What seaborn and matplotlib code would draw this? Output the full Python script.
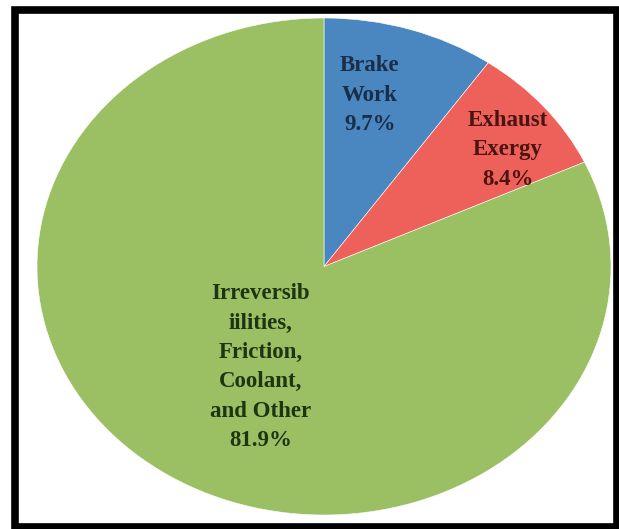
import matplotlib
matplotlib.use("Agg")
import matplotlib.pyplot as plt
from matplotlib.patches import Rectangle
import seaborn as sns

# Exergy balance of the engine (share of fuel exergy, %)
categories = ["Brake\nWork", "Exhaust\nExergy",
              "Irreversib\niilities,\nFriction,\nCoolant,\nand Other"]
shares = [9.7, 8.4, 81.9]
slice_colors = ["#4A86C0", "#EE605A", "#9BBF63"]
label_colors = ["#1B2E48", "#4A1511", "#1E3512"]

sns.set_theme(style="white")
plt.rcParams["font.family"] = ["Liberation Serif", "DejaVu Serif"]

fig = plt.figure(figsize=(6.19, 5.29), dpi=100)
fig.patch.set_facecolor("white")

# the pie is stretched horizontally, so use a non-square axes with auto aspect
W, H = 619, 529
ax = fig.add_axes([37 / W, (H - 515) / H, 574 / W, 497 / H])
ax.pie(shares, colors=slice_colors, startangle=90, counterclock=False,
       radius=1.0, wedgeprops=dict(edgecolor="white", linewidth=0.4))
ax.set_aspect("auto")
ax.set_xlim(-1, 1)
ax.set_ylim(-1, 1)
ax.axis("off")

# label anchors inside each slice (axes data coords)
label_pos = [(0.16, 0.69), (0.64, 0.47), (-0.22, -0.405)]
for name, val, (lx, ly), col in zip(categories, shares, label_pos, label_colors):
    ax.text(lx, ly, f"{name}\n{val:.1f}%", ha="center", va="center",
            fontsize=16.5, fontweight="bold", color=col, linespacing=1.52)

# heavy frame around the whole figure
fig.patches.append(Rectangle((14.5 / W, 2 / H), (617 - 14.5) / W, (519 - 2) / H,
                             transform=fig.transFigure, fill=False,
                             edgecolor="black", linewidth=5.5))

fig.savefig("out.png", dpi=100)
